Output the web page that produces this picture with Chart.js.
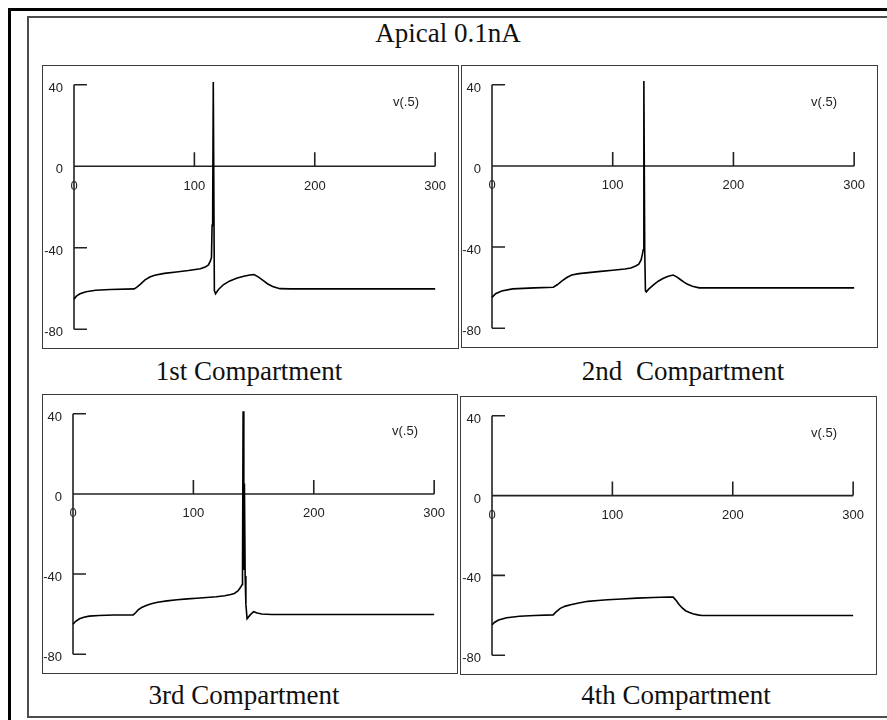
<!DOCTYPE html>
<html>
<head>
<meta charset="utf-8">
<script src="https://cdn.jsdelivr.net/npm/chart.js@4.4.0/dist/chart.umd.min.js"></script>
<style>
html,body{margin:0;padding:0;background:#fff;width:887px;height:720px;overflow:hidden;}
#stage{position:relative;width:887px;height:720px;overflow:hidden;background:#fff;}
.frame-outer{position:absolute;left:8px;top:8px;width:1000px;height:1000px;border-top:3px solid #000;border-left:3px solid #000;}
.frame-inner{position:absolute;left:27px;top:16px;width:1000px;height:702px;box-sizing:border-box;border:2px solid #4d4d4d;}
.pborder{position:absolute;box-sizing:border-box;border:1px solid #3c3c3c;pointer-events:none;}
canvas{position:absolute;}
.cap{position:absolute;width:400px;text-align:center;font-family:"Liberation Serif","Times New Roman",serif;font-size:27px;line-height:27px;color:#111;white-space:nowrap;}
</style>
</head>
<body>
<div id="stage">
  <div class="frame-outer"></div>
  <div class="frame-inner"></div>
</div>
<script>
// ---- data ----
const figureTitle = 'Apical 0.1nA';
const panelTitles = ['1st Compartment', '2nd Compartment', '3rd Compartment', '4th Compartment'];
const seriesLabel = 'v(.5)';
const xTicks = [0, 100, 200, 300];
const yTicks = [-80, -40, 0, 40];

// 1st compartment
const t1 = [0, 2, 5, 10, 18, 30, 50, 52, 55, 59, 63, 67, 75, 85, 95, 105, 109, 111.7, 113.2, 114.2, 114.7, 115.2, 115.7, 116.6, 117.6, 120, 124, 129, 135, 141, 146, 149.5, 153, 157, 161, 165, 171, 180, 300];
const v1 = [-65.3, -63.8, -62.6, -61.6, -60.9, -60.5, -60.2, -59.5, -58.0, -55.8, -54.4, -53.5, -52.6, -51.9, -51.2, -50.3, -49.5, -48.4, -46.6, -44.8, -29, -23, 41.4, -61, -62.6, -60.5, -58.2, -56.4, -55.0, -54.0, -53.4, -53.2, -54.3, -56.0, -57.8, -59.0, -60.1, -60.2, -60.2];

// 2nd compartment
const t2 = [0, 3, 8, 17, 35, 50.8, 54, 58, 62, 66, 72, 80, 90, 100, 110, 115, 119, 121.6, 123.5, 124.6, 125.3, 125.8, 126.5, 127.1, 127.8, 130, 134, 138, 142, 146, 150, 153, 156, 159, 162, 166, 171.6, 180, 300];
const v2 = [-64.8, -63.0, -61.7, -60.6, -60.1, -59.8, -58.6, -56.7, -55.0, -53.8, -53.1, -52.6, -52.0, -51.4, -50.8, -50.3, -49.3, -48.4, -46.3, -43.5, -41.3, 41.9, -41, -61.5, -62.1, -60.6, -58.5, -56.7, -55.4, -54.4, -53.8, -54.7, -56.0, -57.3, -58.3, -59.3, -60.1, -60.1, -60.1];

// 3rd compartment
const t3 = [0, 2, 5.4, 9, 13.5, 21.6, 33.8, 50, 52, 54.1, 57, 60.8, 65, 70.3, 78, 86.5, 95, 102.7, 111, 119, 126, 131, 134, 137, 139.2, 140.4, 140.8, 141.3, 141.9, 142.4, 143.0, 143.6, 144.6, 147, 150, 153, 156.8, 165, 300];
const v3 = [-65.1, -63.7, -62.3, -61.6, -61.0, -60.7, -60.4, -60.4, -59.3, -57.9, -56.7, -55.7, -54.8, -54.1, -53.4, -52.8, -52.4, -52.1, -51.7, -51.3, -50.8, -50.2, -49.7, -48.4, -46.6, -45.3, -41.1, 41.3, -38, 5.2, -41, -55, -62.3, -60.5, -58.8, -59.4, -59.9, -60.2, -60.2];

// 4th compartment
const t4 = [0, 2, 5.4, 12.2, 22.9, 35.1, 50.8, 53, 56.7, 61, 66.2, 72, 79.7, 88, 95.9, 108, 120.2, 134, 147.3, 150.5, 153, 155.4, 158, 160.8, 164, 167.5, 171, 174.3, 180, 300];
const v4 = [-64.8, -63.6, -62.4, -61.2, -60.5, -60.1, -59.8, -58.4, -56.5, -55.4, -54.6, -53.8, -53.0, -52.6, -52.2, -51.8, -51.4, -51.1, -50.8, -50.9, -52.6, -54.6, -56.3, -57.7, -58.6, -59.3, -59.8, -60.1, -60.1, -60.1];

const seriesT = [t1, t2, t3, t4];
const seriesV = [v1, v2, v3, v4];

// ---- layout (page pixels) ----
const panels = [
  {L: 43, T: 66, W: 415, H: 282, yw: 31, pt: 12, pb: 15, pr: 14},
  {L: 462, T: 66, W: 415, H: 281, yw: 30, pt: 11, pb: 15, pr: 15},
  {L: 43, T: 395, W: 414, H: 278, yw: 30, pt: 8, pb: 15, pr: 14},
  {L: 461, T: 397, W: 415, H: 277, yw: 31, pt: 9, pb: 13, pr: 14}
];
const captions = [
  {text: figureTitle, cx: 448, base: 43},
  {text: panelTitles[0], cx: 249, base: 381},
  {text: panelTitles[1], cx: 683, base: 381, ws: 7},
  {text: panelTitles[2], cx: 244, base: 705},
  {text: panelTitles[3], cx: 676, base: 705}
];

const stage = document.getElementById('stage');
captions.forEach(c => {
  const d = document.createElement('div');
  d.className = 'cap';
  d.textContent = c.text;
  d.style.left = (c.cx - 200) + 'px';
  d.style.top = (c.base - 22.6) + 'px';
  if (c.ws) d.style.wordSpacing = c.ws + 'px';
  stage.appendChild(d);
});

const neuronAxes = {
  id: 'neuronAxes',
  beforeDatasetsDraw(chart) {
    const {ctx} = chart;
    const x = chart.scales.x, y = chart.scales.y;
    const x0 = x.getPixelForValue(0);
    const y0 = y.getPixelForValue(0);
    ctx.save();
    ctx.strokeStyle = '#222';
    ctx.lineWidth = 1.6;
    ctx.beginPath();
    ctx.moveTo(x0, y.getPixelForValue(yTicks[yTicks.length - 1]));
    ctx.lineTo(x0, y.getPixelForValue(yTicks[0]));
    yTicks.forEach(v => {
      if (v !== 0) {
        const py = y.getPixelForValue(v);
        ctx.moveTo(x0, py);
        ctx.lineTo(x0 + 13, py);
      }
    });
    ctx.moveTo(x0, y0);
    ctx.lineTo(x.getPixelForValue(xTicks[xTicks.length - 1]), y0);
    xTicks.forEach(v => {
      if (v !== 0) {
        const px = x.getPixelForValue(v);
        ctx.moveTo(px, y0);
        ctx.lineTo(px, y0 - 14);
      }
    });
    ctx.stroke();
    ctx.restore();
  },
  afterDraw(chart) {
    const {ctx, chartArea} = chart;
    ctx.save();
    ctx.font = '13px Arial, "Liberation Sans", sans-serif';
    ctx.fillStyle = '#222';
    ctx.textAlign = 'center';
    ctx.textBaseline = 'middle';
    ctx.fillText(chart.data.datasets[0].label, chartArea.left + 332, chartArea.top + 18);
    ctx.restore();
  }
};

panels.forEach((p, i) => {
  const cv = document.createElement('canvas');
  cv.width = p.W; cv.height = p.H;
  cv.style.left = p.L + 'px'; cv.style.top = p.T + 'px';
  cv.style.width = p.W + 'px'; cv.style.height = p.H + 'px';
  stage.appendChild(cv);
  const b = document.createElement('div');
  b.className = 'pborder';
  b.style.left = (p.L - 1) + 'px'; b.style.top = (p.T - 1) + 'px';
  b.style.width = (p.W + 2) + 'px'; b.style.height = (p.H + 2) + 'px';
  stage.appendChild(b);

  const pts = seriesT[i].map((t, k) => ({x: t, y: seriesV[i][k]}));
  new Chart(cv, {
    type: 'line',
    data: {datasets: [{
      label: seriesLabel,
      data: pts,
      borderColor: '#000',
      borderWidth: 1.6,
      pointRadius: 0,
      tension: 0,
      fill: false,
      clip: false
    }]},
    options: {
      responsive: false,
      animation: false,
      events: [],
      layout: {padding: {left: 0, top: p.pt, bottom: p.pb, right: p.pr}},
      plugins: {legend: {display: false}, tooltip: {enabled: false}, title: {display: false}},
      scales: {
        x: {
          type: 'linear', min: xTicks[0], max: xTicks[xTicks.length - 1],
          position: {y: 0},
          afterBuildTicks: s => { s.ticks = xTicks.map(v => ({value: v})); },
          grid: {display: false, drawTicks: false},
          border: {display: false},
          ticks: {padding: 12, maxRotation: 0, autoSkip: false, color: '#222',
                  font: {family: 'Arial, "Liberation Sans", sans-serif', size: 13}}
        },
        y: {
          type: 'linear', min: yTicks[0], max: yTicks[yTicks.length - 1],
          position: 'left',
          afterFit: s => { s.width = p.yw; },
          afterBuildTicks: s => { s.ticks = yTicks.map(v => ({value: v})); },
          grid: {display: false, drawTicks: false},
          border: {display: false},
          ticks: {padding: 11, labelOffset: 3.5, color: '#222',
                  font: {family: 'Arial, "Liberation Sans", sans-serif', size: 13}}
        }
      }
    },
    plugins: [neuronAxes]
  });
});
</script>
</body>
</html>
